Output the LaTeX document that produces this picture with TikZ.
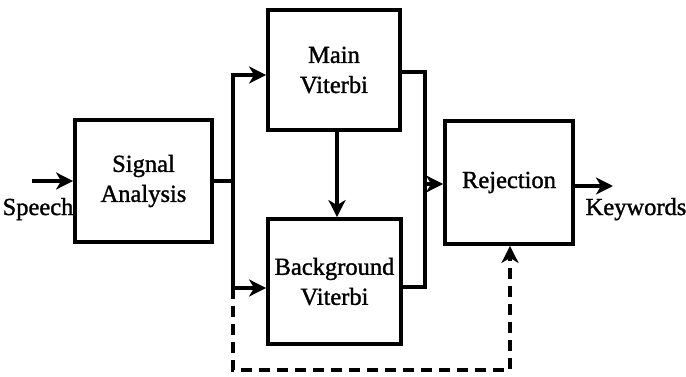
\documentclass[tikz,border=0pt]{standalone}
\usepackage{fontspec}
\setmainfont{Liberation Serif}
\newfontfamily\heavyserif{Liberation Serif}[FakeBold=1.3]
\usetikzlibrary{arrows.meta}
\begin{document}
\begin{tikzpicture}[x=1pt,y=-1pt,
  blk/.style={draw,line width=3.8pt,inner sep=0pt,align=center,
    font=\heavyserif\fontsize{24.5}{30}\selectfont},
  wire/.style={line width=3.2pt},
  tip/.style={-{Stealth[length=17pt,width=17pt,inset=5pt]}},
  arr/.style={wire,tip},
  dashline/.style={wire,dash pattern=on 11pt off 7pt},
  lbl/.style={inner sep=0pt,anchor=base,font=\heavyserif\fontsize{24.5}{30}\selectfont}]
\useasboundingbox (0,0) rectangle (686,377);

% processing blocks
\node[blk,minimum width=137pt,minimum height=122pt] (sig) at (143.5,181) {Signal\\Analysis};
\node[blk,minimum width=132pt,minimum height=120pt] (main) at (334,70) {Main\\Viterbi};
\node[blk,minimum width=133pt,minimum height=125pt] (back) at (334.5,281.5) {Background\\Viterbi};
\node[blk,minimum width=128pt,minimum height=123pt] (rej) at (509,182.5) {Rejection};

% junction points
\coordinate (sp) at (32,181);
\coordinate (br) at (233,181);
\coordinate (bd) at (233,288);
\coordinate (dc) at (233,370);
\coordinate (mg) at (425,184);
\coordinate (kw) at (613,186);

% input
\draw[arr] (sp) -- (sig);
\node[lbl] (speech) at (38,215) {Speech};

% fan-out to the two decoders
\draw[wire] (sig.east) -- (br);
\draw[arr] (br) |- ([yshift=-5pt]main.west);
\draw[arr] (br) |- ([yshift=-6.5pt]back.west);
\draw[arr] ([xshift=3pt]main.south) -- ([xshift=2.5pt]back.north);

% merge into rejection
\draw[wire] ([yshift=-2pt]main.east) -| (mg);
\draw[wire] ([yshift=-5.5pt]back.east) -| (mg);
\draw[arr] (mg) -- ([yshift=-1.5pt]rej.west);

% output
\draw[arr] ([yshift=-3.5pt]rej.east) -- (kw);
\node[lbl] (keywords) at (636,215) {Keywords};

% dashed bypass to rejection
\draw[dashline,tip] (bd) -- (dc) -| ([xshift=1pt]rej.south);
\end{tikzpicture}
\end{document}
